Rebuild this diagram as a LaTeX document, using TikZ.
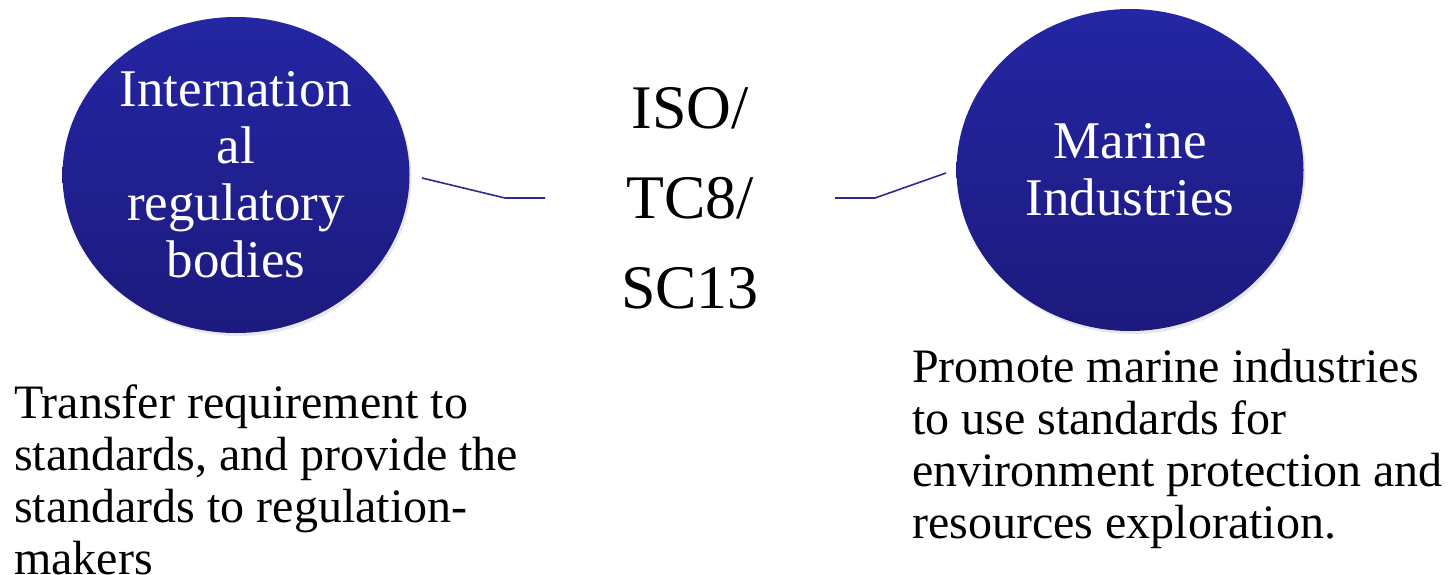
\documentclass[tikz,border=0pt]{standalone}
\usepackage{fontspec}
\setmainfont{Liberation Serif}
\usetikzlibrary{shapes.geometric,shadows}
\definecolor{circtop}{HTML}{2426A3}
\definecolor{circbot}{HTML}{1C1A7D}
\definecolor{connblue}{HTML}{2B2C8E}
\tikzset{
  bubble/.style={ellipse, inner sep=0pt, top color=circtop, bottom color=circbot, draw=none,
    text=white, align=center, font=\fontsize{53}{57}\selectfont,
    drop shadow={opacity=0.18, shadow xshift=2pt, shadow yshift=-3pt}},
  conn/.style={draw=connblue, line width=1.6pt},
  desc/.style={anchor=north west, align=left, inner sep=0pt, font=\fontsize{48}{52}\selectfont},
}
\begin{document}
\begin{tikzpicture}[x=1pt,y=-1pt]
\useasboundingbox (0,0) rectangle (1452,574);
\node[bubble, minimum width=347pt, minimum height=316pt] (L) at (236,175) {Internation\\al\\regulatory\\bodies};
\node[bubble, minimum width=347pt, minimum height=322pt] (R) at (1130,170) {Marine\\Industries};
\node[align=center, inner sep=0pt, font=\fontsize{62}{90}\selectfont] (iso) at (690,198) {ISO/\\TC8/\\SC13};
\coordinate (la) at (422,178);
\coordinate (lb) at (505,198);
\coordinate (lc) at (545,198);
\coordinate (ra) at (835,198);
\coordinate (rb) at (875,198);
\coordinate (rc) at (946,173);
\draw[conn] (la) -- (lb) -- (lc);
\draw[conn] (ra) -- (rb) -- (rc);
\node[desc] (ldesc) at (14,384) {Transfer requirement to\\standards, and provide the\\standards to regulation-\\makers};
\node[desc] (rdesc) at (912,349) {Promote marine industries\\to use standards for\\environment protection and\\resources exploration.};
\end{tikzpicture}
\end{document}
